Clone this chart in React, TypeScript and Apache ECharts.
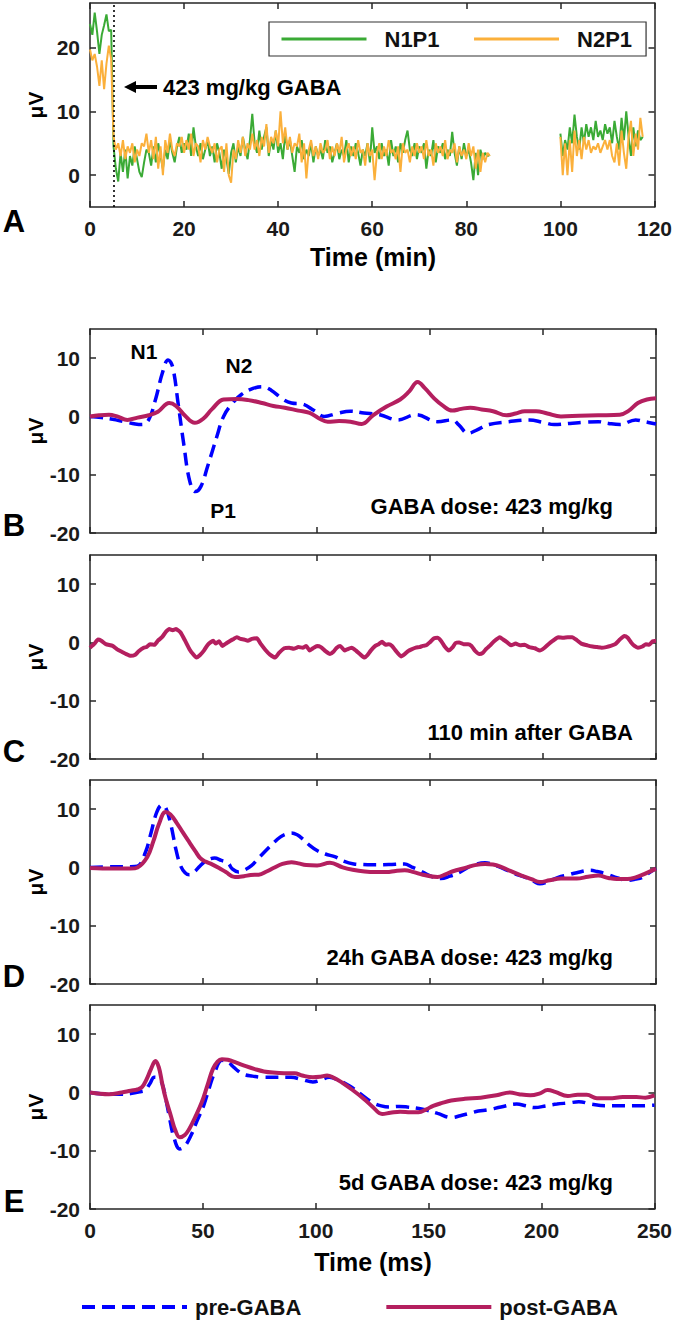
import React, { useEffect, useRef } from "react";
import * as echarts from "echarts";

const FONT = '"Liberation Sans", Arial, Helvetica, sans-serif';
const AXIS_COLOR = "#262626";

// ---------- Panel A: amplitude vs time (min), sampled every 0.5 min ----------
const stepA = 0.5;
const lateStartA = 100;
// 0 .. 85 min
const n1p1Early = [
  23.7, 22.0, 25.5, 22.5, 19.0, 22.0, 23.5, 25.2, 22.6, 22.8,
  4.5, 1.0, -1.0, 3.5, 0.5, 4.0, -0.5, 3.0, 1.5, 4.5,
  2.5, 0.5, -0.3, 2.0, 4.0, 3.5, 1.5, 4.5, 2.0, 5.0,
  3.0, 1.0, 4.0, 2.5, 5.5, 3.5, 2.0, 4.5, 6.0, 3.5,
  5.0, 4.0, 6.5, 3.0, 7.5, 4.5, 3.0, 5.0, 2.5, 4.0,
  5.5, 3.0, 4.5, 2.0, 5.0, 3.5, 1.0, 4.0, 2.5, 0.2,
  3.5, 5.0, 2.0, 4.5, 3.0, 6.0, 4.0, 2.5, 5.5, 9.6,
  5.0, 3.5, 7.0, 4.0, 6.0, 7.5, 3.0, 5.5, 4.0, 7.0,
  3.5, 5.0, 2.5, 6.5, 4.0, 5.5, 3.0, 0.5, 4.5, 3.5,
  5.5, 2.5, 4.0, 3.0, 5.0, 2.0, 4.5, 3.0, 4.0, 2.5,
  5.5, 3.5, 4.5, 2.0, 3.5, 5.0, 2.5, 4.0, 3.0, 5.5,
  2.0, 4.5, 3.0, 5.0, 3.5, 1.5, 4.0, 3.0, 5.0, 2.0,
  7.5, 3.5, 4.5, 2.5, 5.0, 3.0, 4.0, 1.5, 5.5, 3.0,
  4.5, 2.0, 5.0, 3.5, 5.5, 7.0, 4.0, 3.0, 5.0, 2.5,
  4.5, 3.5, 5.0, 1.0, 4.0, 3.0, 5.5, 2.0, 4.5, 3.5,
  5.0, 2.5, 4.0, 3.0, 6.8, 3.5, 1.5, 4.5, 2.5, 5.0,
  3.0, 4.0, 2.0, -0.8, 3.5, 0.0, 4.0, 2.5, 3.5, 3.0,
  3.2,
];
const n2p1Early = [
  19.7, 18.0, 19.0, 17.0, 14.0, 18.0, 13.5, 17.5, 20.3, 18.2,
  6.0, 4.0, 5.0, 3.0, 5.5, 2.5, 4.5, 3.5, 5.0, 2.0,
  4.0, 3.0, 5.0, 4.5, 6.5, 3.5, 5.5, 2.5, 6.0, 1.0,
  4.5, 0.0, 5.5, 3.5, 6.5, 4.0, 3.0, 5.0, 4.5, 6.0,
  3.5, 5.5, 4.0, 6.5, 3.0, 5.0, 4.5, 2.0, 5.5, 4.0,
  6.0, 4.5, 3.5, 5.0, 2.0, 4.0, 4.5, 0.5, 5.0, 0.0,
  -1.2, 4.0, 2.5, 5.5, 3.5, 6.0, 3.0, 5.0, 4.0, 6.5,
  4.0, 5.5, 3.0, 6.0, 4.5, 8.0, 3.5, 6.0, 5.0, 7.0,
  4.5, 10.0, 5.0, 7.5, 4.0, 6.0, 3.5, 5.0, 4.5, 6.5,
  2.0, 5.0, -0.5, 4.0, 5.5, 3.0, 4.5, 2.5, 5.0, 3.5,
  4.0, 5.5, 2.5, 4.5, 3.0, 5.0, 3.5, 6.0, 2.0, 4.0,
  5.0, 3.0, 4.5, 2.5, 5.5, 3.5, 4.0, 1.5, 5.0, 3.0,
  4.0, -0.8, 3.5, 5.0, 2.5, 4.5, 3.0, 5.5, 3.5, 4.0,
  2.5, 4.5, 0.5, 5.0, 3.5, 4.0, 2.0, 4.5, 3.0, 5.0,
  3.5, 4.5, 2.5, 5.5, 3.0, 4.0, 1.5, 5.0, 3.5, 4.5,
  3.0, 5.5, 2.5, 4.0, 3.5, 5.0, 2.0, 4.5, 3.0, 4.0,
  2.5, 5.0, 3.0, 4.5, 1.0, 4.0, 0.5, 3.5, 2.0, 3.5,
  3.0,
];
// 100 .. 117.5 min
const n1p1Late = [
  6.5, 3.0, 5.5, 4.0, 7.5, 5.0, 9.5, 6.0, 4.0, 7.5,
  5.0, 8.0, 6.0, 7.5, 5.5, 8.5, 6.0, 7.0, 5.5, 8.0,
  6.5, 7.5, 5.0, 8.5, 6.0, 4.0, 9.0, 5.5, 10.0, 6.0,
  3.0, 7.5, 4.5, 7.0, 5.5, 6.0,
];
const n2p1Late = [
  6.0, 0.0, 5.0, 0.0, 5.5, 0.5, 7.0, 3.0, 5.5, 2.5,
  6.0, 4.0, 5.5, 3.5, 4.5, 4.0, 5.0, 3.5, 4.5, 5.5,
  4.0, 5.5, 3.0, 2.0, 5.0, 1.5, 7.0, 3.5, 1.0, 6.0,
  8.5, 3.0, 6.5, 4.0, 9.0, 6.0,
];
const gabaInjectionMin = 5;
const xTicksA = { min: 0, max: 120, interval: 20 };
const yTicksA = [0, 10, 20];

// ---------- Panels B–E: evoked potentials, [ms, µV] ----------
const preB = [
  [0, 0], [5, -0.2], [10, -0.5], [15, -0.9], [20, -1.3], [23, -1.4], [26, -0.5], [29, 3], [32, 7.5], [34.5, 9.7],
  [36.5, 8.5], [39, 2], [41.5, -5], [44, -11], [46.5, -12.9], [49, -12], [52, -8.5], [56, -3.5], [59, 0], [63, 2.3],
  [67, 3.8], [72, 4.8], [76, 5.1], [80, 4.5], [85, 3.0], [89, 2.3], [94, 2.1], [99, 1.0], [103.5, 0], [109, 0.5],
  [115, 0.9], [121, 0.6], [128, 0.3], [136, -0.6], [144, 0.3], [153.5, -0.9], [160, -0.6], [163, -1.5], [167, -2.9], [171, -2.3],
  [176, -1.4], [185, -0.9], [194, -0.6], [200, -1.0], [205, -1.4], [212, -1.2], [218, -1.0], [224.5, -0.9], [229, -1.2], [234, -1.4],
  [241, -0.6], [245, -0.9], [250, -1.3],
];
const postB = [
  [0, 0], [4, 0.2], [8.4, 0.3], [12, 0], [16.5, -0.6], [21, -0.2], [26, 0.2], [30, 0.8], [35, 2.3], [38, 1.8],
  [42, 0.1], [46.3, -1.1], [50, -0.4], [54, 1.3], [59, 2.9], [65, 3.0], [70, 2.8], [76, 2.3], [81, 1.8], [86, 1.5],
  [92, 1.0], [97, 0.6], [101, -0.3], [105, -0.9], [110, -0.8], [115, -0.9], [120, -1.3], [125, 0.2], [131, 1.7], [137, 2.9],
  [141, 4.3], [144.7, 5.9], [148, 4.8], [152, 3.1], [156, 1.8], [160, 1.0], [164, 1.3], [168, 1.5], [173, 1.2], [178, 0.9],
  [184, 0.2], [188, 0.5], [192, 0.9], [197, 0.9], [202, 0.5], [208, 0], [216, 0.1], [224.5, 0.2], [234, 0.3], [238, 1.0],
  [242, 2.3], [246, 2.9], [250, 3.1],
];
const postC = [
  [0, -0.9], [2, -0.2], [3.5, 0.5], [5, 0.3], [7, -0.3], [10, -0.6], [12, -1.2], [14, -1.6], [16, -2.0], [18, -2.3],
  [20, -2.1], [21.5, -1.5], [23.7, -0.9], [25, -0.8], [26.5, -0.3], [28.5, -0.4], [30, 0.3], [31.8, 0.9], [33.5, 1.8], [35, 2.3],
  [36.5, 2.1], [38, 2.3], [40, 1.7], [42, 0.3], [44, -1.2], [45.5, -2.0], [47, -2.6], [48.5, -2.2], [50.3, -1.4], [52, -0.4],
  [54.4, 0.3], [55.5, -0.2], [57, 0.2], [58.4, -0.6], [60, -0.2], [62, 0.3], [63.5, 0.6], [64.8, 0.9], [66.5, 0.6], [68, 0.5],
  [69.7, 0.3], [71.5, 0.6], [73.7, 0.7], [75.5, -0.3], [77.5, -1.3], [79.5, -2.1], [81.8, -2.6], [83.5, -1.8], [85.8, -1.0], [88, -0.9],
  [90, -1.1], [92, -0.8], [94, -0.9], [95.5, -0.6], [97, -1.4], [98.5, -1.0], [100.3, -0.6], [102, -0.8], [104, -1.5], [106, -2.0],
  [107.5, -1.6], [109, -0.9], [110.5, -0.6], [112.5, -1.4], [113.5, -1.2], [115.6, -0.9], [117.5, -1.4], [119.5, -2.1], [121.3, -2.6], [122.5, -2.2],
  [124, -1.4], [126, -0.6], [127.5, -0.3], [129, 0.1], [130.5, -0.4], [132, -0.3], [133.4, -0.6], [135, -1.4], [137.4, -2.4], [139, -2.0],
  [140.5, -1.5], [142, -1.2], [143.9, -0.9], [145.5, -0.8], [147, -0.6], [148.5, -0.5], [150, 0], [152, 0.7], [153.5, 0.8], [155, 0.3],
  [156.5, -0.6], [158.4, -1.4], [160, -0.9], [161.5, -0.1], [163, 0], [165, -0.3], [167, -0.3], [168.5, -0.6], [170, -1.4], [172, -2.0],
  [173.5, -1.8], [175, -1.1], [176.5, -0.6], [178.5, 0.2], [181, 0.9], [182.5, 0.5], [184, 0.1], [186, -0.5], [188, -0.2], [190, -0.5],
  [192, -0.4], [194, -0.8], [196.5, -1.0], [198.7, -1.4], [200.5, -1.0], [202.5, -0.3], [204.5, 0.3], [206.8, 0.9], [209, 0.8], [211, 0.9],
  [213, 0.9], [215, 0.4], [217, -0.2], [219.7, -0.5], [222, -0.7], [224, -0.8], [226, -0.9], [228, -0.8], [230, -0.6], [232, -0.3],
  [234, 0.5], [236, 1.1], [237.5, 0.8], [239, 0.0], [240.5, -0.6], [242, -0.9], [244, -0.7], [245.5, -0.3], [247, -0.4], [248.5, 0.2],
  [250, 0.3],
];
const preD = [
  [0, 0], [10, 0.1], [18, 0.1], [21, 0.2], [24.5, 2.6], [27, 6], [29.5, 9.5], [31.8, 10.7], [33.5, 10.2], [35.8, 7.2],
  [38, 3], [40, 0.3], [42, -0.9], [43.9, -1.25], [46, -0.8], [48.7, 0.3], [51.5, 1.2], [55, 1.6], [58, 1.2], [60.8, 0.8],
  [63, -0.3], [65.6, -0.8], [68, -0.5], [71.3, 0.3], [74.5, 1.6], [77.7, 2.9], [81, 4.2], [84, 5.2], [86.5, 5.7], [89, 5.9],
  [91.5, 5.6], [93.9, 4.9], [97, 3.8], [100.3, 2.9], [104, 2.3], [108.4, 1.8], [112, 1.1], [116.5, 0.6], [120, 0.5], [124.5, 0.45],
  [132, 0.5], [139, 0.6], [142, 0.1], [145.5, -0.5], [150, -1.4], [155, -1.9], [159, -1.5], [163, -0.9], [166, -0.2], [169.7, 0.45],
  [174.5, 0.8], [178, 0.5], [182.6, -0.2], [187, -1.0], [192.3, -1.7], [196, -2.4], [198.7, -2.8], [202, -2.5], [206.8, -1.7], [211, -1.3],
  [215, -0.9], [221, -0.5], [224, -0.7], [228, -1.1], [233, -1.8], [237.4, -2.2], [241, -2.0], [244, -1.7], [247, -0.9], [250, -0.2],
];
const postD = [
  [0, -0.1], [10, -0.2], [18, -0.2], [21, 0], [25.3, 1.8], [28, 4.5], [30.5, 7.5], [33.4, 9.5], [35.5, 9.1], [38.2, 7.7],
  [41, 6.0], [43.9, 4.3], [46.5, 2.8], [48.7, 1.6], [51, 1.0], [53.5, 0.6], [57, -0.1], [60, -0.8], [64, -1.65], [68, -1.5],
  [71, -1.3], [74.5, -1.25], [78, -0.7], [81, -0.1], [85, 0.6], [89, 0.9], [92, 0.7], [95.5, 0.4], [100.3, 0.35], [106, 0.8],
  [111.6, 0], [116, -0.4], [121.3, -0.7], [126, -0.8], [131, -0.8], [135, -0.6], [139, -0.5], [143, -0.8], [147, -1.25], [153.5, -1.65],
  [157, -1.2], [160, -0.7], [166.5, 0], [170, 0.4], [174.5, 0.6], [178, 0.5], [181, 0.2], [185, -0.5], [190.6, -1.4], [195, -2.0],
  [198.7, -2.5], [203, -2.2], [208, -1.9], [215, -1.9], [220, -1.6], [224.5, -1.4], [229, -1.8], [232.6, -2.0], [237.4, -2.0], [241, -1.7],
  [245, -1.1], [250, -0.2],
];
const preE = [
  [0, 0], [8.4, -0.3], [14, -0.3], [18, -0.2], [22, 0.1], [24.5, 0.4], [26.5, 1.5], [28.5, 2.6], [30, 2.5], [31.8, 1.7],
  [33.5, -1], [35, -3.9], [37, -7.5], [39.8, -9.7], [42, -9.2], [44.7, -7.4], [47.5, -4.8], [50.3, -2.3], [53, 1.0], [55.2, 3.4],
  [58.4, 5.5], [61, 5.3], [63.2, 4.5], [65.5, 3.7], [68, 3.1], [72, 2.8], [76, 2.6], [82, 2.6], [89, 2.6], [94, 2.2],
  [98.7, 1.8], [102, 2.1], [106, 2.6], [110, 2.1], [115, 1.1], [120, -0.3], [125, -1.7], [129, -2.3], [132.6, -2.5], [137, -2.4],
  [140.6, -2.5], [145, -2.7], [148.7, -3.0], [154, -3.6], [160, -4.3], [164, -4.0], [168, -3.6], [172, -3.2], [176, -3.0], [182, -2.5],
  [189, -2.0], [193, -2.3], [197, -2.6], [202, -2.3], [206.8, -2.0], [212, -1.8], [216.5, -1.6], [222, -2.0], [228, -2.3], [235, -2.3],
  [242, -2.3], [250, -2.2],
];
const postE = [
  [0, 0], [8.4, -0.3], [14, 0], [18, 0.3], [21, 0.5], [23, 0.9], [25, 2.2], [27, 4.0], [29, 5.4], [30.5, 4.3],
  [32, 1.5], [33.5, -1.0], [35.8, -4], [37.8, -6.5], [39.8, -7.7], [42, -7.3], [43.9, -6.3], [46.5, -4.3], [49.5, -1.7], [52, 1.2],
  [54.4, 4.0], [56.5, 5.3], [58.4, 5.7], [61, 5.6], [64.8, 5.1], [69, 4.5], [73, 4.0], [77, 3.6], [81, 3.4], [86, 3.3],
  [90.6, 3.3], [94, 2.9], [98.7, 2.6], [102, 2.7], [105, 2.9], [108, 2.5], [111.6, 1.7], [116, 0.5], [121.3, -1.1], [125, -2.4],
  [129.4, -3.7], [133, -3.5], [137.4, -3.3], [142, -3.4], [145.5, -3.4], [149, -2.9], [152, -2.3], [156, -1.8], [160, -1.4], [166, -1.1],
  [173, -0.9], [180, -0.5], [186, 0], [190, -0.3], [195, -0.5], [199, -0.2], [202.7, 0.4], [206, 0.1], [211.6, -0.6], [216, -0.4],
  [220, -0.4], [224.5, -1.0], [230, -1.0], [236, -0.8], [242, -0.8], [246, -0.9], [250, -0.5],
];
const xTicksMs = { min: 0, max: 250, interval: 50 };
const yTicksEP = [-20, -10, 0, 10];
const yRangeEP = { min: -20, max: 15 };
const yRangeA = { min: -5, max: 27 };

const panelNotes = [
  "GABA dose: 423 mg/kg",
  "110 min after GABA",
  "24h GABA dose: 423 mg/kg",
  "5d GABA dose: 423 mg/kg",
];
const panelLetters = ["A", "B", "C", "D", "E"];

const COL_N1P1 = "#3aaa35";
const COL_N2P1 = "#fbb03b";
const COL_PRE = "#0000ff";
const COL_POST = "#b41f5f";

function buildOption() {
  const grids = [
    { left: 90, top: 3, width: 566, height: 204 },
    { left: 90, top: 329, width: 566, height: 204 },
    { left: 90, top: 555, width: 566, height: 204 },
    { left: 90, top: 780, width: 566, height: 204 },
    { left: 90, top: 1005, width: 566, height: 204 },
  ];
  const lineStyle = { color: AXIS_COLOR, width: 1.5 };
  const labelStyle = {
    fontFamily: FONT,
    fontSize: 21,
    fontWeight: "bold" as const,
    color: "#1a1a1a",
  };
  const xAxis: any[] = [];
  const yAxis: any[] = [];
  grids.forEach((_, i) => {
    const xr = i === 0 ? xTicksA : xTicksMs;
    const showX = i === 0 || i === 4;
    xAxis.push({
      type: "value",
      gridIndex: i,
      position: "bottom",
      min: xr.min,
      max: xr.max,
      interval: xr.interval,
      axisLine: { show: true, onZero: false, lineStyle },
      axisTick: { show: true, inside: true, length: 6, lineStyle },
      axisLabel: { show: showX, margin: 11, ...labelStyle },
      splitLine: { show: false },
    });
    xAxis.push({
      type: "value",
      gridIndex: i,
      position: "top",
      min: xr.min,
      max: xr.max,
      interval: xr.interval,
      axisLine: { show: true, onZero: false, lineStyle },
      axisTick: { show: true, inside: true, length: 6, lineStyle },
      axisLabel: { show: false },
      splitLine: { show: false },
    });
    const yr = i === 0 ? yRangeA : yRangeEP;
    const yt = i === 0 ? yTicksA : yTicksEP;
    yAxis.push({
      type: "value",
      gridIndex: i,
      position: "left",
      min: yr.min,
      max: yr.max,
      axisLine: { show: true, onZero: false, lineStyle },
      axisTick: { show: true, inside: true, length: 6, lineStyle, customValues: yt },
      axisLabel: { show: true, margin: 10, customValues: yt, ...labelStyle },
      splitLine: { show: false },
    });
    yAxis.push({
      type: "value",
      gridIndex: i,
      position: "right",
      min: yr.min,
      max: yr.max,
      axisLine: { show: true, onZero: false, lineStyle },
      axisTick: { show: true, inside: true, length: 6, lineStyle, customValues: yt },
      axisLabel: { show: false, customValues: yt },
      splitLine: { show: false },
    });
  });

  const toPairs = (early: number[], late: number[]) =>
    early
      .map((v, k) => [k * stepA, v] as any[])
      .concat([[92.5, "-"]])
      .concat(late.map((v, k) => [lateStartA + k * stepA, v]));

  const series: any[] = [
    {
      name: "N1P1",
      type: "line",
      xAxisIndex: 0,
      yAxisIndex: 0,
      data: toPairs(n1p1Early, n1p1Late),
      symbol: "none",
      connectNulls: false,
      lineStyle: { color: COL_N1P1, width: 2 },
      itemStyle: { color: COL_N1P1 },
      markLine: {
        silent: true,
        symbol: ["none", "none"],
        label: { show: false },
        lineStyle: { type: [2, 3], color: "#000", width: 1.6 },
        data: [{ xAxis: gabaInjectionMin }],
      },
      z: 2,
    },
    {
      name: "N2P1",
      type: "line",
      xAxisIndex: 0,
      yAxisIndex: 0,
      data: toPairs(n2p1Early, n2p1Late),
      symbol: "none",
      connectNulls: false,
      lineStyle: { color: COL_N2P1, width: 2 },
      itemStyle: { color: COL_N2P1 },
      z: 3,
    },
  ];
  const pre = [preB, null, preD, preE];
  const post = [postB, postC, postD, postE];
  for (let p = 0; p < 4; p++) {
    const gi = p + 1;
    if (pre[p]) {
      series.push({
        name: "pre-GABA",
        type: "line",
        xAxisIndex: gi * 2,
        yAxisIndex: gi * 2,
        data: pre[p],
        symbol: "none",
        smooth: 0.4,
        lineStyle: { color: COL_PRE, width: 3.5, type: [13, 7] },
        itemStyle: { color: COL_PRE },
        z: 2,
      });
    }
    series.push({
      name: "post-GABA",
      type: "line",
      xAxisIndex: gi * 2,
      yAxisIndex: gi * 2,
      data: post[p],
      symbol: "none",
      smooth: p === 1 ? 0.15 : 0.4,
      lineStyle: { color: COL_POST, width: 4 },
      itemStyle: { color: COL_POST },
      z: 3,
    });
  }

  const txt = (
    text: string,
    x: number,
    y: number,
    size: number,
    align: string = "center",
    rotation = 0
  ) => ({
    type: "text",
    x,
    y,
    rotation,
    silent: true,
    style: {
      text,
      fill: "#000",
      fontFamily: FONT,
      fontSize: size,
      fontWeight: "bold",
      align,
      verticalAlign: "middle",
    },
  });

  const elements: any[] = [];
  // y-axis titles
  grids.forEach((g) => {
    elements.push(txt("μV", 35, g.top + g.height / 2, 21, "center", Math.PI / 2));
  });
  // panel letters
  const letterY = [221, 525, 751, 976, 1201];
  panelLetters.forEach((L, i) => elements.push(txt(L, 14, letterY[i], 31)));
  // x-axis titles
  elements.push(txt("Time (min)", 373, 257, 25));
  elements.push(txt("Time (ms)", 373, 1262, 25));
  // panel A annotation with arrow
  elements.push({
    type: "line",
    silent: true,
    shape: { x1: 157, y1: 87, x2: 133, y2: 87 },
    style: { stroke: "#000", lineWidth: 4 },
  });
  elements.push({
    type: "polygon",
    silent: true,
    shape: { points: [[124, 87], [136, 81], [136, 93]] },
    style: { fill: "#000" },
  });
  elements.push(txt("423 mg/kg GABA", 163, 87, 22, "left"));
  // panel B peak labels
  elements.push(txt("N1", 144, 351, 21));
  elements.push(txt("N2", 239, 365, 21));
  elements.push(txt("P1", 223, 510, 21));
  // condition notes
  const noteY = [506, 732, 957, 1182];
  const noteRight = [613, 633, 613, 613];
  panelNotes.forEach((t, i) => elements.push(txt(t, noteRight[i], noteY[i], 22, "right")));

  const legendText = {
    fontFamily: FONT,
    fontSize: 22,
    fontWeight: "bold" as const,
    color: "#111",
  };
  const hiddenSymbol = { color: "transparent", borderColor: "transparent", borderWidth: 0, opacity: 0 };

  return {
    animation: false,
    backgroundColor: "#fff",
    grid: grids,
    xAxis,
    yAxis,
    series,
    legend: [
      {
        data: ["N1P1", "N2P1"],
        left: 269,
        top: 22,
        orient: "horizontal",
        padding: [6, 14, 6, 11],
        itemGap: 33,
        itemWidth: 85,
        itemHeight: 14,
        borderColor: "#333",
        borderWidth: 1.2,
        backgroundColor: "#fff",
        selectedMode: false,
        itemStyle: hiddenSymbol,
        lineStyle: { width: 3 },
        textStyle: { ...legendText, padding: [0, 0, 0, 13] },
      },
      {
        data: ["pre-GABA", "post-GABA"],
        left: 80,
        top: 1296,
        orient: "horizontal",
        padding: 0,
        itemGap: 83,
        itemWidth: 105,
        itemHeight: 14,
        selectedMode: false,
        itemStyle: hiddenSymbol,
        lineStyle: { width: 4 },
        textStyle: { ...legendText, padding: [0, 0, 0, 3] },
      },
    ],
    graphic: { elements },
  };
}

export default function App() {
  const ref = useRef<HTMLDivElement>(null);
  useEffect(() => {
    if (!ref.current) return;
    const chart = echarts.init(ref.current, undefined, { renderer: "svg" });
    chart.setOption(buildOption() as any);
    return () => chart.dispose();
  }, []);
  return (
    <div
      ref={ref}
      style={{ position: "absolute", left: 0, top: 0, width: 675, height: 1321, background: "#fff" }}
    />
  );
}
